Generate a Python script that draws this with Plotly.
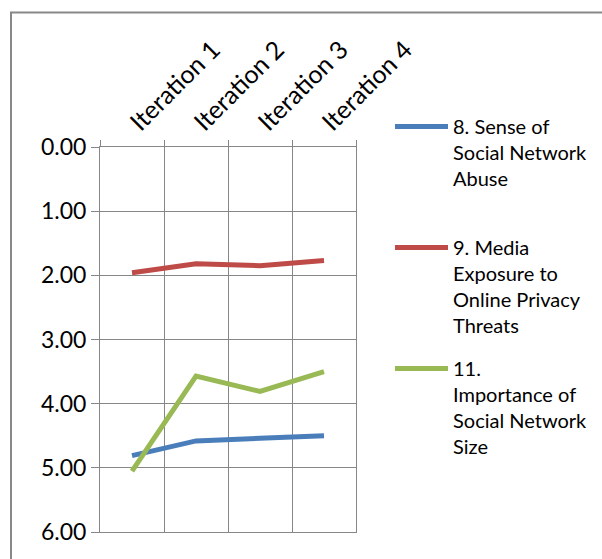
import plotly.graph_objects as go

categories = ["Iteration 1", "Iteration 2", "Iteration 3", "Iteration 4"]
series_names = [
    "8. Sense of<br>Social Network<br>Abuse<br> ",
    "9. Media<br>Exposure to<br>Online Privacy<br>Threats",
    "11.<br>Importance of<br>Social Network<br>Size",
]
sense_abuse = [4.81, 4.58, 4.54, 4.50]
media_exposure = [1.96, 1.82, 1.85, 1.77]
network_size = [5.05, 3.57, 3.81, 3.50]
colors = ["#4A7EBB", "#BE4B48", "#98B954"]
y_ticks = [0, 1, 2, 3, 4, 5, 6]

W, H = 602, 559
L, R, T, B = 100, 356, 147, 532
pw, ph = R - L, B - T

def px_x(p):
    return (p - L) / pw

def px_y(p):
    return (B - p) / ph

fig = go.Figure()
for i, (name, vals) in enumerate(zip(series_names, [sense_abuse, media_exposure, network_size])):
    fig.add_trace(go.Scatter(
        x=categories, y=vals, mode="lines", name=name,
        line=dict(color=colors[i], width=5),
        legendgroup=str(i),
    ))

grid = "#878787"
fig.update_layout(
    width=W, height=H,
    margin=dict(l=L, r=W - R, t=T, b=H - B, autoexpand=False),
    paper_bgcolor="white", plot_bgcolor="white",
    font=dict(family="Lato", color="black"),
    showlegend=True,
    legend=dict(
        x=px_x(390), y=px_y(107), xanchor="left", yanchor="top",
        font=dict(size=20, family="Lato", color="black"),
        valign="top", tracegroupgap=14, itemwidth=53,
        bgcolor="rgba(0,0,0,0)", maxheight=1000,
    ),
    xaxis=dict(
        type="category", side="top", tickangle=-45,
        tickson="boundaries", ticks="outside", ticklen=6, tickcolor=grid,
        showgrid=True, gridcolor=grid, gridwidth=1,
        showline=True, linecolor=grid, linewidth=1, mirror=True,
        tickfont=dict(size=25, family="Lato", color="black"),
        range=[-0.5, 3.5], fixedrange=True,
    ),
    yaxis=dict(
        range=[6, 0], tickvals=y_ticks, tickformat=".2f",
        ticks="outside", ticklen=8, tickcolor=grid,
        showgrid=True, gridcolor=grid, gridwidth=1,
        showline=True, linecolor=grid, linewidth=1, mirror=True,
        zeroline=False, fixedrange=True,
        tickfont=dict(size=23, family="Lato", color="black"),
    ),
    shapes=[dict(
        type="rect", xref="paper", yref="paper",
        x0=px_x(11), x1=px_x(606), y0=px_y(575), y1=px_y(12.5),
        line=dict(color="#888888", width=2), fillcolor="rgba(0,0,0,0)",
        layer="below",
    )],
)

fig.write_html(
    "out.html",
    config={"displayModeBar": False},
    post_script="document.body.style.margin='0';document.body.style.overflow='hidden';",
)
